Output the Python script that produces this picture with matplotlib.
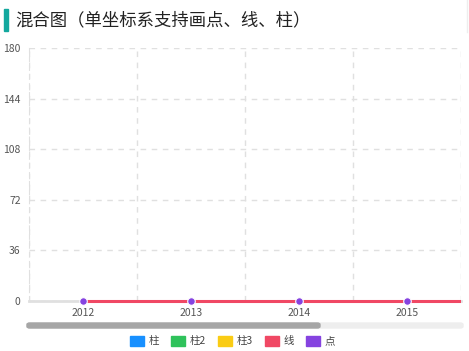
import matplotlib
matplotlib.use("Agg")
import matplotlib.pyplot as plt
from matplotlib.patches import Rectangle, FancyBboxPatch
from matplotlib.transforms import Bbox

plt.rcParams['font.family'] = ['Noto Sans CJK SC', 'DejaVu Sans']

years = ['2012', '2013', '2014', '2015', '2016']
bar1 = [0, 0, 0, 0, 0]
bar2 = [0, 0, 0, 0, 0]
bar3 = [0, 0, 0, 0, 0]
line_vals = [0, 0, 0, 0, 0]
point_vals = [0, 0, 0, 0, 0]
yticks = [0, 36, 72, 108, 144, 180]

W, H = 469, 351
fig = plt.figure(figsize=(W / 100, H / 100), dpi=100)

# plot area in pixels: x 29..461, y 48..301
ax = fig.add_axes([29 / W, 1 - 301 / H, (461 - 29) / W, (301 - 48) / H])
x = list(range(len(years)))
bw = 0.18
ax.bar([i - bw for i in x], bar1, width=bw, color='#1890FF')
ax.bar(x, bar2, width=bw, color='#2FC25B')
ax.bar([i + bw for i in x], bar3, width=bw, color='#FACC14')
ln, = ax.plot(x, line_vals, color='#F04864', lw=2.2, zorder=3,
              solid_capstyle='butt')
# clip only horizontally so the line at y=0 isn't cut in half
clip = Bbox.from_extents(29, 0, 461, H)
ln.set_clip_box(clip)
ax.scatter(x[:4], point_vals[:4], color='#8543E0', s=30, zorder=4,
           clip_on=False, edgecolors='white', linewidths=0.8)

ax.set_xlim(-0.5, 3.5)
ax.set_ylim(0, 180)
ax.set_yticks(yticks)
ax.set_xticks(x[:4])
ax.set_xticklabels(years[:4])
ax.set_xticks([-0.5, 0.5, 1.5, 2.5, 3.5], minor=True)
ax.grid(False)
ax.yaxis.grid(True, color='#E0E0E0', ls=(0, (4, 4)), lw=1)
ax.xaxis.grid(True, which='minor', color='#E0E0E0', ls=(0, (4, 4)), lw=1)
ax.set_axisbelow(True)
for s in ['top', 'right', 'bottom']:
    ax.spines[s].set_visible(False)
ax.spines['left'].set_color('#E0E0E0')
ax.spines['left'].set_linestyle((0, (4, 4)))
ax.axhline(0, color='#E0E0E0', lw=2, zorder=1, clip_on=False)
ax.tick_params(axis='both', which='both', length=0, labelsize=7.5,
               labelcolor='#555555')
ax.tick_params(axis='x', pad=5)
ax.tick_params(axis='y', pad=6)

# title
fig.patches.append(Rectangle((4 / W, 1 - 31 / H), 4 / W, 22 / H,
                             transform=fig.transFigure, color='#13A89E'))
fig.text(15 / W, 1 - 20 / H, '混合图（单坐标系支持画点、线、柱）',
         fontsize=12.5, color='#222222', va='center', ha='left')
fig.lines.append(plt.Line2D([467 / W, 467 / W], [1 - 32 / H, 1.0],
                            transform=fig.transFigure, color='#EEEEEE', lw=1))

# scrollbar
fig.patches.append(FancyBboxPatch((27 / W, 1 - 328 / H), 436 / W, 5 / H,
                                  boxstyle='round,pad=0,rounding_size=0.006',
                                  transform=fig.transFigure, color='#EEEEEE',
                                  mutation_aspect=H / W))
fig.patches.append(FancyBboxPatch((27 / W, 1 - 328 / H), 293 / W, 5 / H,
                                  boxstyle='round,pad=0,rounding_size=0.006',
                                  transform=fig.transFigure, color='#A6A6A6',
                                  mutation_aspect=H / W))

# legend
legend_items = [('柱', '#1890FF'), ('柱2', '#2FC25B'), ('柱3', '#FACC14'),
                ('线', '#F04864'), ('点', '#8543E0')]
lx = [130, 171, 218, 265, 306]
for (label, col), px in zip(legend_items, lx):
    fig.patches.append(Rectangle((px / W, 1 - 346 / H), 14 / W, 10 / H,
                                 transform=fig.transFigure, color=col))
    fig.text((px + 19) / W, 1 - 341 / H, label, fontsize=7.5, color='#444444',
             va='center', ha='left')

fig.savefig('out.png', dpi=100)
